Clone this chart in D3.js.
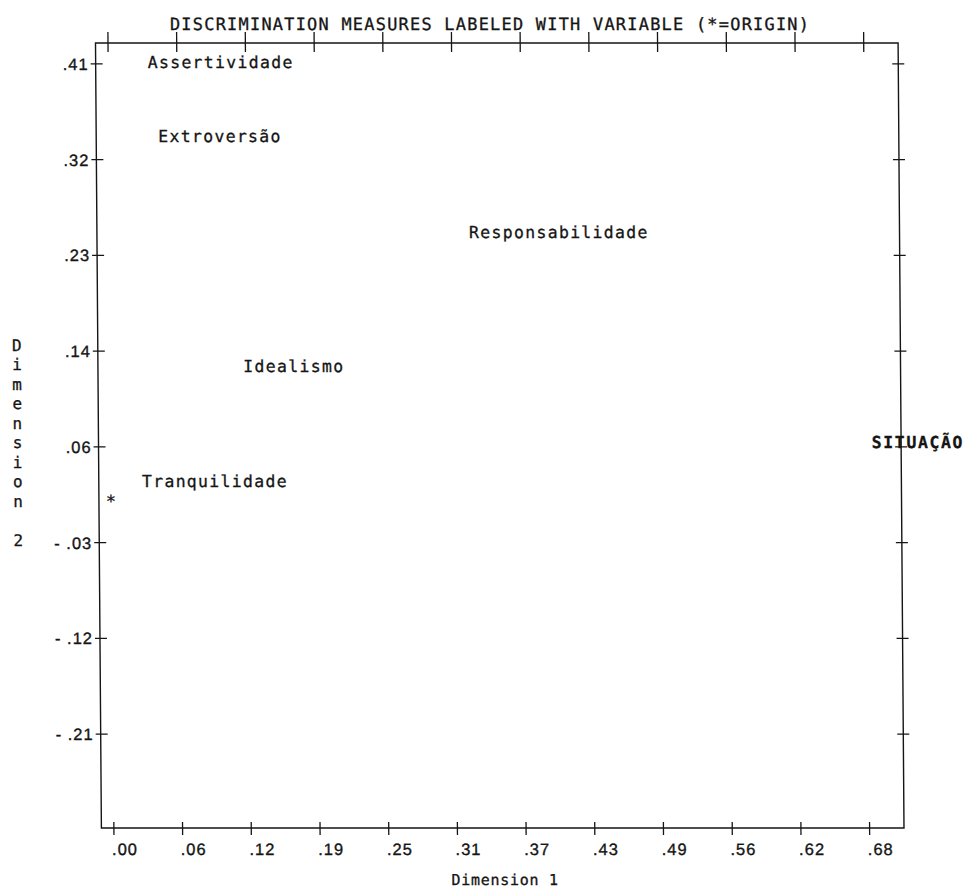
<!DOCTYPE html>
<html>
<head>
<meta charset="utf-8">
<script src="https://cdn.jsdelivr.net/npm/d3@7"></script>
<style>
  html, body { margin: 0; padding: 0; background: #fff; }
  svg { display: block; }
</style>
</head>
<body>
<svg id="chart" width="967" height="890"></svg>
<script>
// Discrimination measures of each variable on the two dimensions
const variables = ["Assertividade", "Extroversão", "Responsabilidade", "Idealismo", "Tranquilidade", "SITUAÇÃO"];
const dim1 = [0.036, 0.045, 0.324, 0.120, 0.028, 0.685];
const dim2 = [0.412, 0.343, 0.254, 0.130, 0.024, 0.060];
const boldVariables = ["SITUAÇÃO"];
const origin = [0, 0];

// Axis ticks and extents
const xTickValues = [0, 0.0618, 0.1236, 0.1855, 0.2473, 0.3091, 0.3709, 0.4327, 0.4945, 0.5564, 0.6182, 0.68];
const yTickValues = [0.4105, 0.3219, 0.2333, 0.1447, 0.0561, -0.0325, -0.1211, -0.2097];
const xDomain = [-0.0108, 0.7114];
const yDomain = [-0.297, 0.4293];

const title = "DISCRIMINATION MEASURES LABELED WITH VARIABLE (*=ORIGIN)";
const xTitle = "Dimension 1";
const yTitle = "Dimension 2";

const mono = "'DejaVu Sans Mono', monospace";
const sans = "'Liberation Sans', Arial, sans-serif";
const ink = "#151515";

const frame = { left: 95.5, right: 898.1, top: 43, bottom: 828 };

const x = d3.scaleLinear().domain(xDomain).range([frame.left, frame.right]);
const y = d3.scaleLinear().domain(yDomain).range([frame.bottom, frame.top]);

const fmt = v => {
  const s = d3.format(".2f")(Math.abs(v)).replace(/^0/, "");
  return v < 0 ? "- " + s : s;
};

const svg = d3.select("#chart");
// the printed plot leans slightly to the right towards the bottom
const g = svg.append("g")
  .attr("transform", `translate(0,${frame.top}) skewX(0.43) translate(0,${-frame.top})`);

// slightly heavy printed text
function ink_text(sel, w = 0.3) {
  return sel.attr("fill", ink).attr("stroke", ink).attr("stroke-width", w);
}

// plot frame
g.append("rect")
  .attr("x", frame.left).attr("y", frame.top)
  .attr("width", frame.right - frame.left).attr("height", frame.bottom - frame.top)
  .attr("fill", "none").attr("stroke", ink).attr("stroke-width", 1.4);

function styleAxis(sel) {
  sel.select(".domain").remove();
  sel.selectAll(".tick line").attr("stroke", ink).attr("stroke-width", 1.3);
  ink_text(sel.selectAll(".tick text"), 0.35)
    .style("font-family", sans)
    .style("font-size", "16.5px")
    .style("letter-spacing", "1px");
}

// left axis: cross ticks with labels
const axisL = g.append("g").attr("transform", `translate(${frame.left},0)`)
  .call(d3.axisLeft(y).tickValues(yTickValues).tickFormat(fmt).tickSize(5).tickPadding(0));
styleAxis(axisL);
axisL.selectAll(".tick line").attr("x1", 7).attr("x2", -5);
axisL.selectAll(".tick text").attr("x", -7).attr("dy", "0.36em").attr("text-anchor", "end");

// right axis: cross ticks only
const axisR = g.append("g").attr("transform", `translate(${frame.right},0)`)
  .call(d3.axisRight(y).tickValues(yTickValues).tickFormat("").tickSize(6));
styleAxis(axisR);
axisR.selectAll(".tick line").attr("x1", -6).attr("x2", 6);

// top axis: cross ticks only
const axisT = g.append("g").attr("transform", `translate(0,${frame.top})`)
  .call(d3.axisTop(x).tickValues(xTickValues).tickFormat("").tickSize(11));
styleAxis(axisT);
axisT.selectAll(".tick line").attr("y1", 9).attr("y2", -11);

// bottom axis: cross ticks with labels
const axisB = g.append("g").attr("transform", `translate(0,${frame.bottom})`)
  .call(d3.axisBottom(x).tickValues(xTickValues).tickFormat(fmt).tickSize(7));
styleAxis(axisB);
axisB.selectAll(".tick line").attr("y1", -6).attr("y2", 7);
axisB.selectAll(".tick text").attr("x", -2).attr("y", 27).attr("dy", null).attr("text-anchor", "start");

// origin marker
ink_text(g.append("text"))
  .attr("x", x(origin[0])).attr("y", y(origin[1]))
  .attr("text-anchor", "middle")
  .style("font-family", mono).style("font-size", "16.5px")
  .text("*");

// variable labels placed at their discrimination measures
const points = variables.map((name, i) => ({ name, d1: dim1[i], d2: dim2[i] }));
ink_text(g.selectAll("text.var").data(points).join("text"))
  .attr("class", "var")
  .attr("x", d => x(d.d1))
  .attr("y", d => y(d.d2))
  .attr("dy", "0.36em")
  .style("font-family", mono)
  .style("font-size", "16.5px")
  .style("letter-spacing", d => boldVariables.includes(d.name) ? "1.6px" : "1.3px")
  .style("font-weight", d => boldVariables.includes(d.name) ? "bold" : "normal")
  .text(d => d.name);

// title
ink_text(g.append("text"))
  .attr("x", 170).attr("y", 30)
  .style("font-family", mono).style("font-size", "17px").style("letter-spacing", "1.2px")
  .text(title);

// x axis title
ink_text(g.append("text"))
  .attr("x", (frame.left + frame.right) / 2 + 2).attr("y", 885)
  .attr("text-anchor", "middle")
  .style("font-family", mono).style("font-size", "15px").style("letter-spacing", "0.7px")
  .text(xTitle);

// y axis title, one character per line
ink_text(g.selectAll("text.ytitle").data(yTitle.split("")).join("text"))
  .attr("class", "ytitle")
  .attr("x", 14.5)
  .attr("y", (d, i) => 351 + i * 19.5)
  .attr("text-anchor", "middle")
  .style("font-family", mono).style("font-size", "16px")
  .text(d => d);
</script>
</body>
</html>
